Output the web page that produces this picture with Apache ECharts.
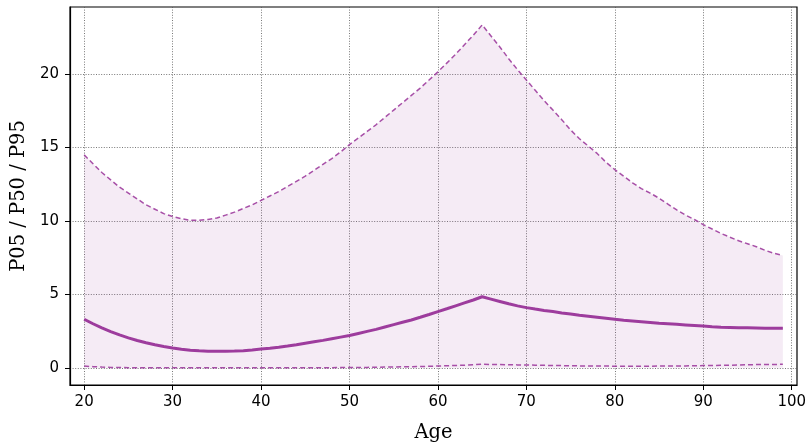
<!DOCTYPE html>
<html><head><meta charset="utf-8">
<script src="https://cdn.jsdelivr.net/npm/echarts@6/dist/echarts.min.js"></script>
<style>html,body{margin:0;padding:0;background:#fff}#c{width:811px;height:448px}</style>
</head><body><div id="c"></div>
<script>
const ages = [];
for (let a = 20; a <= 99; a++) ages.push(a);
const p95 = [14.5,13.9,13.3,12.8,12.3,11.9,11.5,11.1,10.8,10.5,
10.3,10.15,10.05,10.05,10.1,10.2,10.4,10.6,10.85,11.1,
11.4,11.7,12.0,12.35,12.7,13.05,13.45,13.85,14.25,14.7,
15.2,15.65,16.1,16.55,17.05,17.55,18.05,18.55,19.05,19.6,
20.15,20.75,21.35,22.0,22.65,23.35,22.6,21.85,21.05,20.3,
19.6,18.9,18.2,17.55,16.9,16.2,15.6,15.1,14.6,14.0,
13.5,13.05,12.6,12.2,11.9,11.55,11.15,10.75,10.4,10.1,
9.75,9.45,9.15,8.9,8.65,8.45,8.25,8.0,7.8,7.65];
const p50 = [3.31,3.0,2.72,2.47,2.24,2.04,1.86,1.71,1.57,1.45,
1.35,1.27,1.2,1.16,1.13,1.12,1.12,1.14,1.17,1.22,
1.28,1.33,1.4,1.48,1.57,1.67,1.77,1.87,1.98,2.09,
2.2,2.34,2.48,2.62,2.78,2.94,3.1,3.26,3.44,3.63,
3.83,4.02,4.22,4.42,4.62,4.84,4.68,4.52,4.36,4.22,
4.1,4.0,3.91,3.83,3.74,3.66,3.58,3.51,3.44,3.37,
3.3,3.24,3.19,3.14,3.09,3.04,3.0,2.96,2.92,2.88,
2.84,2.8,2.77,2.75,2.73,2.72,2.71,2.7,2.7,2.7];
const p05 = [0.12,0.08,0.05,0.03,0.02,0.01,0.01,0.01,0.01,0.01,
0.01,0.01,0.01,0.01,0.01,0.01,0.01,0.01,0.01,0.01,
0.01,0.01,0.01,0.01,0.01,0.01,0.01,0.01,0.01,0.02,
0.02,0.02,0.03,0.04,0.05,0.06,0.07,0.08,0.09,0.1,
0.12,0.14,0.16,0.18,0.21,0.24,0.23,0.22,0.21,0.2,
0.19,0.18,0.17,0.16,0.15,0.14,0.13,0.13,0.12,0.12,
0.11,0.11,0.11,0.11,0.11,0.12,0.12,0.12,0.13,0.14,
0.15,0.16,0.17,0.18,0.19,0.21,0.22,0.23,0.23,0.24];
const xTicks = [20,30,40,50,60,70,80,90,100];
const yTicks = [0,5,10,15,20];

const purple = '#993399';
const chart = echarts.init(document.getElementById('c'), null, {renderer:'canvas'});
const gridLine = {show:true, lineStyle:{color:'#555', width:0.8, type:[1,1.6]}};
chart.setOption({
  animation:false,
  grid:{left:70, right:14, top:7, bottom:61, show:true, borderColor:'#000', borderWidth:1.2, backgroundColor:'transparent'},
  xAxis:{type:'value', min:18.4, max:100.6,
    name:'Age', nameLocation:'middle', nameGap:38,
    nameTextStyle:{fontFamily:'DejaVu Serif', fontSize:19.5, color:'#000'},
    axisLine:{show:true, onZero:false, lineStyle:{color:'#000', width:1.2}},
    axisTick:{show:true, inside:false, length:5, lineStyle:{color:'#000', width:1}, customValues:xTicks},
    axisLabel:{fontFamily:'DejaVu Sans', fontSize:15, color:'#000', margin:10, customValues:xTicks},
    splitLine:gridLine},
  yAxis:{type:'value', min:-1.17, max:24.57,
    name:'P05 / P50 / P95', nameLocation:'middle', nameGap:35, nameRotate:90,
    nameTextStyle:{fontFamily:'DejaVu Serif', fontSize:19.5, color:'#000'},
    axisLine:{show:true, onZero:false, lineStyle:{color:'#000', width:1.2}},
    axisTick:{show:true, inside:false, length:5, lineStyle:{color:'#000', width:1}, customValues:yTicks},
    axisLabel:{fontFamily:'DejaVu Sans', fontSize:15, color:'#000', margin:11, customValues:yTicks},
    splitLine:gridLine},
  series:[
    {type:'line', data:ages.map((a,i)=>[a,p95[i]]), symbol:'none', z:2,
      lineStyle:{color:purple, width:1.5, type:[5,3], opacity:0.85},
      areaStyle:{color:'rgba(153,51,153,0.14)', origin:0}},
    {type:'line', data:ages.map((a,i)=>[a,p05[i]]), symbol:'none', z:3,
      lineStyle:{color:purple, width:1.5, type:[5,3], opacity:0.85}},
    {type:'line', data:ages.map((a,i)=>[a,p50[i]]), symbol:'none', z:4,
      lineStyle:{color:purple, width:3, opacity:0.95}}
  ]
});
</script></body></html>
